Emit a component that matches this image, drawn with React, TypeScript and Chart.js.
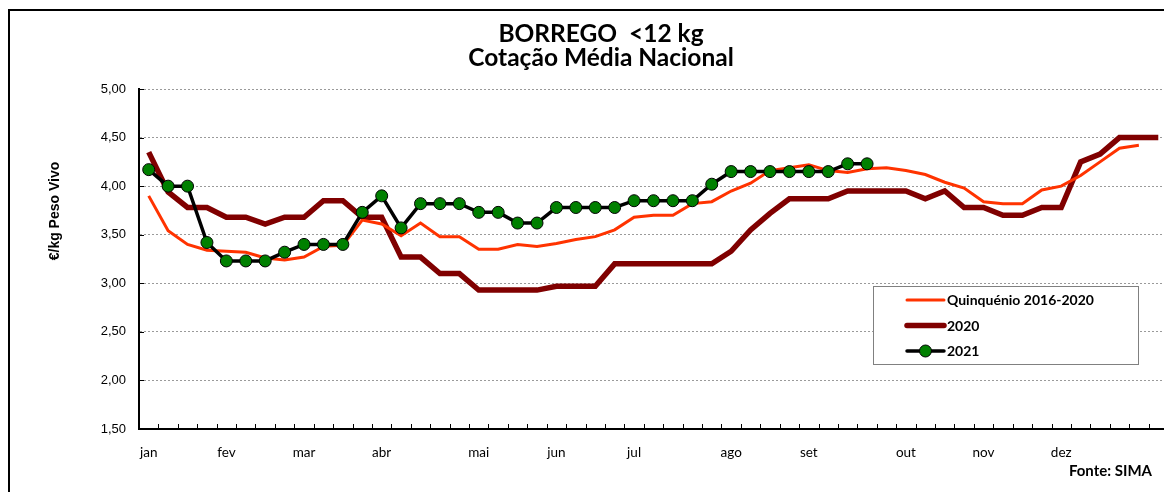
import React, { useEffect, useRef } from 'react';
import { Chart, registerables } from 'chart.js';

Chart.register(...registerables);

// Week tick labels (53 weeks, month name at first week of month)
const weekTickLabels = [
  'jan', '', '', '', 'fev', '', '', '', 'mar', '', '', '', 'abr', '', '', '', '',
  'mai', '', '', '', 'jun', '', '', '', 'jul', '', '', '', '', 'ago', '', '', '',
  'set', '', '', '', '', 'out', '', '', '', 'nov', '', '', '', 'dez', '', '', '', '', '',
];

const quinquenio = [
  3.90, 3.54, 3.40, 3.34, 3.33, 3.32, 3.26, 3.24, 3.27, 3.38, 3.39, 3.65, 3.61,
  3.49, 3.62, 3.48, 3.48, 3.35, 3.35, 3.40, 3.38, 3.41, 3.45, 3.48, 3.55, 3.68,
  3.70, 3.70, 3.82, 3.84, 3.95, 4.03, 4.16, 4.19, 4.22, 4.16, 4.14, 4.18, 4.19,
  4.16, 4.12, 4.04, 3.98, 3.84, 3.82, 3.82, 3.96, 4.00, 4.11, 4.25, 4.39, 4.42,
];

const serie2020 = [
  4.35, 3.94, 3.78, 3.78, 3.68, 3.68, 3.61, 3.68, 3.68, 3.85, 3.85, 3.68, 3.68,
  3.27, 3.27, 3.10, 3.10, 2.93, 2.93, 2.93, 2.93, 2.97, 2.97, 2.97, 3.20, 3.20,
  3.20, 3.20, 3.20, 3.20, 3.33, 3.55, 3.72, 3.87, 3.87, 3.87, 3.95, 3.95, 3.95,
  3.95, 3.87, 3.95, 3.78, 3.78, 3.70, 3.70, 3.78, 3.78, 4.25, 4.33, 4.50, 4.50, 4.50,
];

const serie2021 = [
  4.17, 4.00, 4.00, 3.42, 3.23, 3.23, 3.23, 3.32, 3.40, 3.40, 3.40, 3.73, 3.90,
  3.57, 3.82, 3.82, 3.82, 3.73, 3.73, 3.62, 3.62, 3.78, 3.78, 3.78, 3.78, 3.85,
  3.85, 3.85, 3.85, 4.02, 4.15, 4.15, 4.15, 4.15, 4.15, 4.15, 4.23, 4.23,
];

const seriesNames = ['Quinquénio 2016-2020', '2020', '2021'];
const titleLines = ['BORREGO  <12 kg', 'Cotação Média Nacional'];
const yAxisTitle = '€/kg Peso Vivo';
const sourceText = 'Fonte: SIMA';
const yMin = 1.5;
const yMax = 5.0;
const yStep = 0.5;

const CAL = 'Lato, "Open Sans", sans-serif';
const ARIAL = '"Liberation Sans", Arial, sans-serif';

export default function App() {
  const ref = useRef<HTMLCanvasElement>(null);

  useEffect(() => {
    const canvas = ref.current!;
    const decor = {
      id: 'decor',
      afterDraw(chart: any) {
        const ctx = chart.ctx as CanvasRenderingContext2D;
        const area = chart.chartArea;
        ctx.save();
        // outer frame
        ctx.fillStyle = '#000';
        ctx.fillRect(8, 9, 2, 600);
        ctx.fillRect(8, 9, 1300, 2);

        // title
        ctx.fillStyle = '#000';
        ctx.textAlign = 'center';
        ctx.textBaseline = 'alphabetic';
        ctx.font = `bold 24.5px ${CAL}`;
        ctx.fillText(titleLines[0], 601, 42);
        ctx.fillText(titleLines[1], 601, 66);

        // y axis title
        ctx.save();
        ctx.translate(59, 211);
        ctx.rotate(-Math.PI / 2);
        ctx.font = `bold 14px ${ARIAL}`;
        ctx.textAlign = 'center';
        ctx.fillText(yAxisTitle, 0, 0);
        ctx.restore();

        // source
        ctx.font = `bold 15px ${CAL}`;
        ctx.textAlign = 'right';
        ctx.fillText(sourceText, 1152, 476);

        // inside tick marks
        ctx.strokeStyle = '#000';
        ctx.lineWidth = 1;
        const xs = chart.scales.x;
        const ys = chart.scales.y;
        ctx.beginPath();
        for (let i = 0; i <= weekTickLabels.length; i++) {
          const px = Math.round(xs.getPixelForValue(i - 0.5)) + 0.5;
          ctx.moveTo(px, area.bottom);
          ctx.lineTo(px, area.bottom - 5);
        }
        ys.ticks.forEach((t: any) => {
          const py = Math.round(ys.getPixelForValue(t.value)) + 0.5;
          ctx.moveTo(area.left, py);
          ctx.lineTo(area.left + 5, py);
        });
        ctx.stroke();

        // legend
        const lx = 873.5, ly = 286.5, lw = 265, lh = 78;
        ctx.fillStyle = '#fff';
        ctx.fillRect(lx, ly, lw, lh);
        ctx.strokeStyle = '#808080';
        ctx.lineWidth = 1;
        ctx.strokeRect(lx, ly, lw, lh);
        const rows = [
          { ds: 0, y: 300, base: 305 },
          { ds: 1, y: 325.5, base: 331 },
          { ds: 2, y: 351, base: 356 },
        ];
        rows.forEach((r) => {
          const d: any = chart.data.datasets[r.ds];
          ctx.strokeStyle = d.borderColor;
          ctx.lineWidth = d.borderWidth;
          ctx.lineCap = 'round';
          ctx.beginPath();
          ctx.moveTo(907, r.y);
          ctx.lineTo(944, r.y);
          ctx.stroke();
          if (d.pointRadius > 0) {
            ctx.beginPath();
            ctx.arc(925.5, r.y, d.pointRadius, 0, Math.PI * 2);
            ctx.fillStyle = d.pointBackgroundColor;
            ctx.fill();
            ctx.lineWidth = d.pointBorderWidth;
            ctx.strokeStyle = d.pointBorderColor;
            ctx.stroke();
          }
          ctx.fillStyle = '#000';
          ctx.font = `bold 14px ${CAL}`;
          ctx.textAlign = 'left';
          ctx.fillText(d.label, 947, r.base);
        });
        ctx.restore();
      },
    };

    const chart = new Chart(canvas, {
      type: 'line',
      data: {
        labels: weekTickLabels,
        datasets: [
          {
            label: seriesNames[0],
            data: quinquenio,
            borderColor: '#FF3300',
            borderWidth: 3,
            pointRadius: 0,
            tension: 0,
            order: 1,
          },
          {
            label: seriesNames[1],
            data: serie2020,
            borderColor: '#800000',
            borderWidth: 5.5,
            pointRadius: 0,
            tension: 0,
            order: 2,
          },
          {
            label: seriesNames[2],
            data: serie2021,
            borderColor: '#000000',
            borderWidth: 3.5,
            pointRadius: 6,
            pointBackgroundColor: '#008000',
            pointBorderColor: '#000000',
            pointBorderWidth: 1,
            tension: 0,
            order: 0,
          },
        ],
      },
      options: {
        responsive: false,
        animation: false,
        layout: { padding: { top: 89, right: 12, bottom: 0, left: 0 } },
        plugins: {
          legend: { display: false },
          tooltip: { enabled: false },
          title: { display: false },
        },
        scales: {
          x: {
            type: 'category',
            offset: true,
            grid: { display: false, drawTicks: false, offset: true },
            border: { display: true, color: '#000', width: 2 },
            ticks: {
              autoSkip: false,
              maxRotation: 0,
              minRotation: 0,
              padding: 16,
              color: '#000',
              font: { family: CAL, size: 13.5 },
            },
            afterFit: (s: any) => {
              s.height = 63;
            },
          },
          y: {
            min: yMin,
            max: yMax,
            grid: { color: '#9a9a9a', lineWidth: 1, drawTicks: false },
            border: { display: true, color: '#000', width: 2, dash: [2, 2] },
            ticks: {
              stepSize: yStep,
              padding: 13,
              color: '#000',
              font: { family: ARIAL, size: 13 },
              callback: (v: any) => Number(v).toFixed(2).replace('.', ','),
            },
            afterFit: (s: any) => {
              s.width = 139;
            },
          },
        },
      },
      plugins: [decor],
    });
    return () => chart.destroy();
  }, []);

  return (
    <div
      style={{
        position: 'fixed',
        left: 0,
        top: 0,
        width: 1164,
        height: 492,
        overflow: 'hidden',
        background: '#fff',
      }}
    >
      <canvas ref={ref} width={1180} height={492} style={{ display: 'block', width: 1180, height: 492 }} />
    </div>
  );
}
